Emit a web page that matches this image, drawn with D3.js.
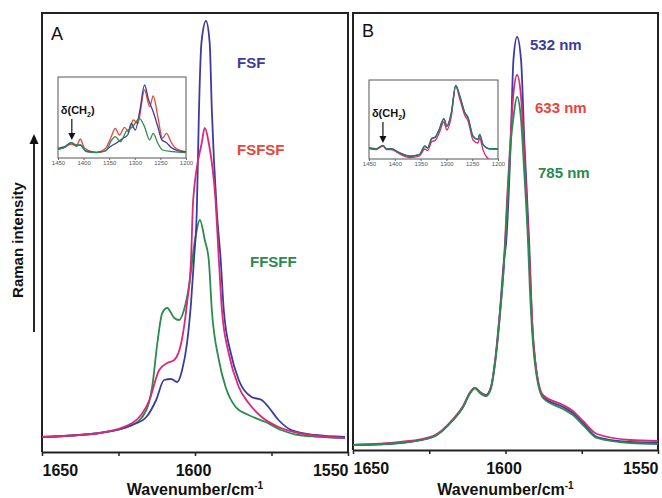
<!DOCTYPE html>
<html>
<head>
<meta charset="utf-8">
<title>Raman spectra</title>
<script src="https://cdn.jsdelivr.net/npm/d3@7"></script>
<style>
  body { margin: 0; background: #fff; }
  svg text { font-family: "Liberation Sans", Arial, sans-serif; }
</style>
</head>
<body>
<script>
// ---- data: [wavenumber, intensity (a.u.)] ----
var fsf = [[1650,15],[1637.7,17],[1631.2,19],[1620.5,27],[1615.9,35],[1612.7,52],[1610.1,72],
  [1607.8,73],[1605.8,70],[1604.2,82],[1602.6,109],[1601.3,149],[1600.3,194],[1599.4,242],
  [1598.7,342],[1597.9,409],[1596.4,431],[1595.2,409],[1594.5,342],[1592.9,242],[1591.6,192],
  [1590.6,142],[1588.3,99],[1585.7,72],[1581.5,55],[1578.2,52],[1576.0,45],[1572.7,32],
  [1568.5,22],[1560.7,17],[1551,15]];
var fsfsf = [[1650,15],[1631.2,19],[1620.5,29],[1614.9,52],[1611.7,82],[1609.1,89],[1606.8,92],
  [1604.5,109],[1602.6,149],[1601.3,192],[1600.6,252],[1597.8,309],[1596.8,324],[1595.5,309],
  [1593.3,252],[1592.2,192],[1591.2,142],[1589.0,99],[1585.7,65],[1582.5,49],[1578.2,35],
  [1572.7,25],[1566.2,19],[1551,14]];
var ffsff = [[1650,15],[1631.2,19],[1620.5,27],[1615.9,42],[1614.0,65],[1612.3,109],[1610.7,139],
  [1609.1,144],[1606.8,134],[1605.2,132],[1603.6,142],[1602.0,165],[1600.0,212],[1598.4,232],
  [1596.8,212],[1595.5,192],[1594.5,142],[1592.2,92],[1590.0,65],[1586.7,45],[1582.5,37],
  [1576.9,30],[1571.8,22],[1566.2,17],[1551,14]];

var nm532 = [[1650,5],[1634.6,7],[1623.8,13],[1617.2,30],[1613.9,43],[1611.6,57],[1610,62],
  [1608.4,58],[1606.4,55],[1604.8,63],[1603.4,90],[1601.8,140],[1600.5,190],[1599.8,207],
  [1598.3,307],[1597.4,390],[1596.2,413],[1594.9,390],[1593.8,307],[1592.2,205],[1591.3,130],
  [1590.3,90],[1587.7,53],[1581.1,43],[1577.9,37],[1574.6,27],[1570,13],[1559.2,8],[1550,7]];
var nm633 = [[1650,5],[1634.6,8],[1623.8,14],[1617.2,31],[1613.9,44],[1611.6,58],[1610,62],
  [1608.4,58],[1606.4,54],[1604.8,62],[1603.4,88],[1601.8,138],[1600.5,188],[1599.5,250],
  [1598.2,320],[1597.5,353],[1596.2,375],[1594.9,353],[1593.9,300],[1592.6,220],[1592,180],
  [1591.3,130],[1590.3,90],[1587.7,55],[1581.1,45],[1577.9,39],[1574.6,29],[1570,16],
  [1559.2,10],[1550,9]];
var nm785 = [[1650,5],[1634.6,7],[1623.8,13],[1617.2,30],[1613.9,43],[1611.6,57],[1610,62],
  [1608.4,57],[1606.4,54],[1604.8,61],[1603.4,87],[1601.8,135],[1600.5,185],[1599.5,240],
  [1598.2,310],[1597.5,330],[1596.2,353],[1594.9,330],[1593.9,280],[1592.6,207],[1592,160],
  [1591.3,120],[1590.3,85],[1587.7,52],[1581.1,41],[1577.9,35],[1574.6,25],[1570,12],
  [1559.2,7],[1550,6]];

// insets, 1450-1200 cm-1
var insetFsf = [[1450,9.7],[1437,11.3],[1424,15.3],[1414,12],[1406.5,13],[1395,7],[1375,5.7],
  [1359,7],[1346,12],[1335,15.3],[1323,19.7],[1314,23],[1307,34.7],[1299,28],[1290,48],
  [1281,73],[1273,58],[1264,46.3],[1255,31.3],[1247,18],[1238,15.3],[1229.5,10.7],[1216.5,7.3],[1200,6]];
var insetFsfsf = [[1450,8.7],[1437,10.7],[1424,14],[1414,12],[1406.5,19],[1398,9.7],[1375,5.7],
  [1357,9.7],[1346,21.3],[1338,29.7],[1330,23],[1320,30.7],[1312,26.3],[1303,38],[1294,34.7],
  [1281,68],[1271,51.3],[1264,62],[1255,41.3],[1246,19.7],[1238,24.7],[1229.5,16.3],[1220,9.7],[1200,6.3]];
var insetFfsff = [[1450,8.7],[1437,10.7],[1424,15.3],[1414,13],[1406.5,13],[1395,6.3],[1375,5.3],
  [1357,7],[1346,17.3],[1338,21.3],[1328,16.3],[1317,26.3],[1304,31.3],[1291,39.7],[1281,31.3],
  [1271,18],[1264,24.7],[1255,14.7],[1246,8],[1226,6.3],[1200,5.3]];

var inset532 = [[1450,11],[1436,10],[1423,13.3],[1416,10],[1407,10],[1390.6,6],[1371,2.6],[1352,4.3],
  [1342,12.6],[1336,11],[1329,20],[1321,22],[1314,29.3],[1305,40],[1299,32.6],[1290.4,46],
  [1282,73.3],[1274,62.6],[1264.6,46.6],[1258,41],[1248.5,22.6],[1239,19.3],[1235.5,24.3],
  [1229,14.3],[1216,10],[1200,10]];
var inset633 = [[1450,10.5],[1436,9.5],[1423,13],[1416,9.5],[1407,9.5],[1390.6,5],[1371,1.5],[1352,3],
  [1342,10],[1336,8.5],[1329,17],[1321,19],[1314,26],[1305,37],[1299,29],[1290.4,43],
  [1282,73],[1274,60],[1264.6,44],[1258,38],[1248.5,19],[1239,16],[1235.5,21],
  [1229,9],[1222,2],[1218,0]];
var inset785 = [[1450,11],[1436,10.3],[1423,13.6],[1416,10.3],[1407,10.3],[1390.6,6.3],[1371,3],[1352,4.6],
  [1342,13],[1336,11.3],[1329,20.3],[1321,22.3],[1314,29.6],[1305,40.3],[1299,33],[1290.4,46.3],
  [1282,73.6],[1274,63],[1264.6,47],[1258,41.3],[1248.5,23],[1239,19.6],[1235.5,24.6],
  [1229,14.6],[1216,10.3],[1200,10.3]];

var mainTicks = [1650, 1625, 1600, 1575, 1550];
var mainTickLabels = [1650, 1600, 1550];
var insetTicks = [1450, 1400, 1350, 1300, 1250, 1200];

var blue = "#3c3c9e", magenta = "#d8297c", red = "#e8463c", green = "#2b8a4c";

var width = 662, height = 498;

var svg = d3.select("body").append("svg")
    .attr("width", width)
    .attr("height", height);

// ---- scales ----
var xA = d3.scaleLinear().domain([1650, 1550]).range([42, 348]),
    yA = d3.scaleLinear().domain([0, 439]).range([452, 13]),
    xB = d3.scaleLinear().domain([1650, 1550]).range([353, 658]),
    yB = d3.scaleLinear().domain([0, 437]).range([450, 13]),
    xIA = d3.scaleLinear().domain([1450, 1200]).range([58, 186]),
    yIA = d3.scaleLinear().domain([0, 81]).range([158, 77]),
    xIB = d3.scaleLinear().domain([1450, 1200]).range([369, 498]),
    yIB = d3.scaleLinear().domain([0, 79]).range([159, 80]);

function lineFor(x, y){
    return d3.line()
        .x(function(d){ return x(d[0]); })
        .y(function(d){ return y(d[1]); })
        .curve(d3.curveMonotoneX);
}

function drawSeries(g, data, x, y, color, w){
    g.append("path")
        .attr("d", lineFor(x, y)(data))
        .attr("fill", "none")
        .attr("stroke", color)
        .attr("stroke-width", w)
        .attr("stroke-linejoin", "round");
}

// ---- panel frames ----
function panel(x, y){
    var g = svg.append("g");
    var x0 = x.range()[0], x1 = x.range()[1], y0 = y.range()[0], y1 = y.range()[1];
    g.append("path")
        .attr("d", "M" + x0 + "," + y0 + "V" + y1 + "H" + x1 + "V" + y0)
        .attr("fill", "none")
        .attr("stroke", "#222")
        .attr("stroke-width", 2);

    var axis = d3.axisBottom(x)
        .tickValues(mainTicks)
        .tickSize(4)
        .tickSizeOuter(0)
        .tickPadding(9)
        .tickFormat(function(d){ return mainTickLabels.indexOf(d) >= 0 ? d : ""; });

    var ax = g.append("g")
        .attr("transform", "translate(0," + y0 + ")")
        .call(axis);
    ax.select(".domain").attr("stroke", "#222").attr("stroke-width", 2);
    ax.selectAll(".tick line").attr("stroke", "#222").attr("stroke-width", 1.5);
    ax.selectAll(".tick text")
        .attr("fill", "#111")
        .style("font-size", "16px")
        .style("font-weight", "bold")
        .attr("text-anchor", function(d){ return d === 1650 ? "start" : d === 1550 ? "end" : "middle"; })
        .attr("dx", function(d){ return d === 1650 ? 0 : d === 1550 ? 0 : -2; });

    var t = g.append("text")
        .attr("x", (x0 + x1) / 2)
        .attr("y", 495)
        .attr("text-anchor", "middle")
        .style("font-size", "16px")
        .style("font-weight", "bold")
        .attr("fill", "#111")
        .text("Wavenumber/cm");
    t.append("tspan").attr("dy", -6).style("font-size", "10px").text("-1");
    return g;
}

var gA = panel(xA, yA);
var gB = panel(xB, yB);

// ---- insets ----
function inset(x, y, label, arrowWn){
    var g = svg.append("g");
    var x0 = x.range()[0], x1 = x.range()[1], y0 = y.range()[0], y1 = y.range()[1];
    g.append("rect")
        .attr("x", x0).attr("y", y1)
        .attr("width", x1 - x0).attr("height", y0 - y1)
        .attr("fill", "#fff")
        .attr("stroke", "#555")
        .attr("stroke-width", 1);
    var ax = g.append("g")
        .attr("transform", "translate(0," + y0 + ")")
        .call(d3.axisBottom(x).tickValues(insetTicks).tickSize(2).tickPadding(1).tickFormat(d3.format("d")));
    ax.select(".domain").remove();
    ax.selectAll(".tick line").attr("stroke", "#666");
    ax.selectAll(".tick text").attr("fill", "#555").style("font-size", "6px");

    var ax0 = x(arrowWn);
    g.append("text")
        .attr("x", ax0 - 11)
        .attr("y", y1 + 37)
        .style("font-size", "11px")
        .style("font-weight", "bold")
        .attr("fill", "#111")
        .text(label)
        .append("tspan").attr("dy", 3).style("font-size", "7px").text("2")
        .select(function(){ return this.parentNode; })
        .append("tspan").attr("dy", -3).text(")");
    g.append("line")
        .attr("x1", ax0).attr("x2", ax0)
        .attr("y1", y1 + 42).attr("y2", y1 + 58)
        .attr("stroke", "#111").attr("stroke-width", 1.2);
    g.append("path")
        .attr("d", "M" + (ax0 - 3.5) + "," + (y1 + 56) + "L" + (ax0 + 3.5) + "," + (y1 + 56) + "L" + ax0 + "," + (y1 + 63) + "Z")
        .attr("fill", "#111");
    return g;
}

// panel A curves
drawSeries(gA, ffsff, xA, yA, green, 1.8);
drawSeries(gA, fsf, xA, yA, blue, 1.8);
drawSeries(gA, fsfsf, xA, yA, magenta, 1.8);

// panel B curves
drawSeries(gB, nm532, xB, yB, blue, 1.8);
drawSeries(gB, nm633, xB, yB, magenta, 1.8);
drawSeries(gB, nm785, xB, yB, green, 1.8);

var iA = inset(xIA, yIA, "\u03b4(CH", 1423);
svg.append("clipPath").attr("id", "clipIA").append("rect")
    .attr("x", 58).attr("y", 77).attr("width", 128).attr("height", 81);
var cA = iA.append("g").attr("clip-path", "url(#clipIA)");
drawSeries(cA, insetFsfsf, xIA, yIA, red, 1.3);
drawSeries(cA, insetFsf, xIA, yIA, blue, 1.3);
drawSeries(cA, insetFfsff, xIA, yIA, green, 1.3);

var iB = inset(xIB, yIB, "\u03b4(CH", 1423);
svg.append("clipPath").attr("id", "clipIB").append("rect")
    .attr("x", 369).attr("y", 80).attr("width", 129).attr("height", 79);
var cB = iB.append("g").attr("clip-path", "url(#clipIB)");
drawSeries(cB, inset532, xIB, yIB, blue, 1.3);
drawSeries(cB, inset633, xIB, yIB, magenta, 1.3);
drawSeries(cB, inset785, xIB, yIB, "#2a7a5a", 1.3);

// ---- labels ----
function label(txt, x, y, color, size, weight){
    svg.append("text")
        .attr("x", x).attr("y", y)
        .attr("fill", color)
        .style("font-size", size + "px")
        .style("font-weight", weight || "bold")
        .text(txt);
}
label("A", 51, 40, "#111", 18, "normal");
label("B", 362, 37, "#111", 18, "normal");
label("FSF", 237, 68, blue, 15);
label("FSFSF", 237, 155, red, 15);
label("FFSFF", 250, 267, green, 15);
label("532 nm", 530, 50, blue, 15);
label("633 nm", 535, 113, red, 15);
label("785 nm", 538, 178, green, 15);

// y axis title with arrow
svg.append("text")
    .attr("transform", "translate(23,240) rotate(-90)")
    .attr("text-anchor", "middle")
    .style("font-size", "15px")
    .style("font-weight", "bold")
    .attr("fill", "#111")
    .text("Raman intensity");
svg.append("line")
    .attr("x1", 34).attr("x2", 34)
    .attr("y1", 332).attr("y2", 142)
    .attr("stroke", "#111").attr("stroke-width", 1.8);
svg.append("path")
    .attr("d", "M29.5,144L38.5,144L34,134Z")
    .attr("fill", "#111");
</script>
</body>
</html>
